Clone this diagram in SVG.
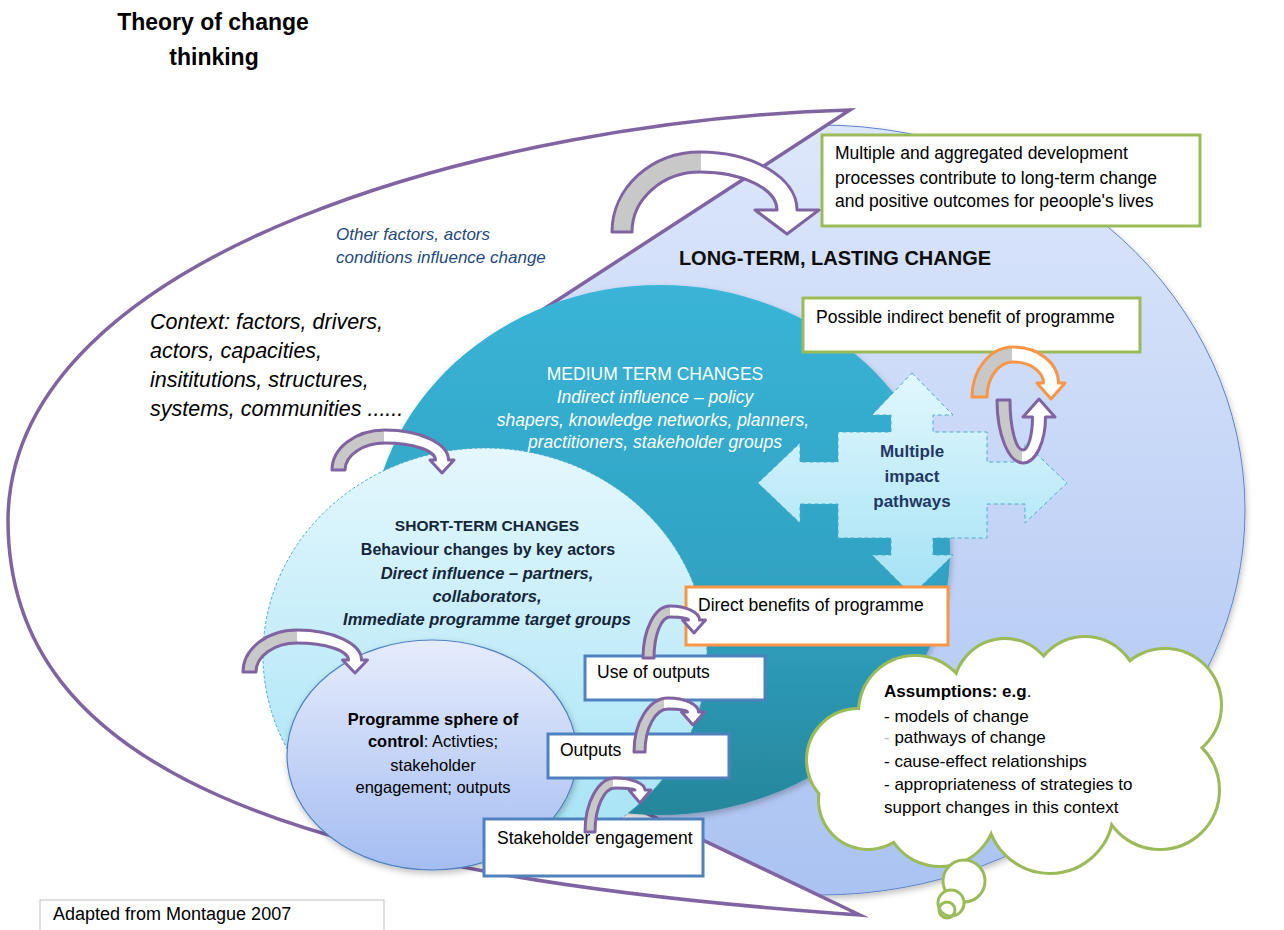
<svg xmlns="http://www.w3.org/2000/svg" width="1284" height="930" viewBox="0 0 1284 930">
<defs>
<style>
text{font-family:"Liberation Sans",Arial,sans-serif;}
.box{fill:#fff;stroke-width:3;}
.g{stroke:#9BBB59;}
.o{stroke:#F79646;}
.b{stroke:#4F81BD;}
.bt{font-size:17.5px;fill:#000;}
.arr{fill:url(#gw);stroke-width:3;stroke-linejoin:round;}
.pa{stroke:#8064A2;}
.oa{stroke:#F79646;}
.wt{fill:#fff;font-size:17.5px;text-anchor:middle;}
.st{fill:#13263A;text-anchor:middle;font-weight:bold;}
.cl{fill:#fff;stroke:#9BBB59;stroke-width:6;}
.cf{fill:#fff;}
.at{font-size:17px;fill:#000;}
</style>
<linearGradient id="gw" x1="0" y1="0" x2="1" y2="0">
<stop offset="0" stop-color="#C8C8C8"/><stop offset="0.43" stop-color="#C8C8C8"/><stop offset="0.43" stop-color="#FFFFFF"/><stop offset="1" stop-color="#FFFFFF"/>
</linearGradient>
<linearGradient id="gLong" x1="0" y1="0" x2="0" y2="1">
<stop offset="0" stop-color="#DDE7FB"/><stop offset="1" stop-color="#ABC3F2"/>
</linearGradient>
<linearGradient id="gMed" x1="0" y1="0" x2="0" y2="1">
<stop offset="0" stop-color="#3AB4D7"/><stop offset="0.6" stop-color="#2FA1C1"/><stop offset="1" stop-color="#27869B"/>
</linearGradient>
<linearGradient id="gShort" x1="0" y1="0" x2="0" y2="1">
<stop offset="0" stop-color="#E4F7FD"/><stop offset="1" stop-color="#A3E2F5"/>
</linearGradient>
<linearGradient id="gSph" x1="0" y1="0" x2="0" y2="1">
<stop offset="0" stop-color="#E6ECFC"/><stop offset="1" stop-color="#A4BDF2"/>
</linearGradient>
<linearGradient id="gCross" x1="0" y1="0" x2="0" y2="1">
<stop offset="0" stop-color="#E2F7FD"/><stop offset="1" stop-color="#A4E2F5"/>
</linearGradient>
<filter id="sh" x="-10%" y="-10%" width="120%" height="125%">
<feDropShadow dx="1" dy="3" stdDeviation="3" flood-color="#000" flood-opacity="0.25"/>
</filter>
</defs>

<rect width="1284" height="930" fill="#fff"/>

<g id="title">
<text x="213" y="30" font-size="23" font-weight="bold" text-anchor="middle">Theory of change</text>
<text x="214" y="65" font-size="23" font-weight="bold" text-anchor="middle">thinking</text>
</g>

<g id="long-term">
<ellipse cx="820" cy="510" rx="425" ry="385" fill="url(#gLong)" stroke="#5B83C9" stroke-width="1" filter="url(#sh)"/>
</g>

<g id="context">
<path d="M850,110 C500,120 10,250 8,520 C8,770 290,875 860,915 L560,772 L533,316 Z" fill="#fff" stroke="#8064A2" stroke-width="3.5" stroke-miterlimit="12"/>
</g>

<g id="medium-term">
<ellipse cx="660" cy="550" rx="290" ry="265" fill="url(#gMed)" filter="url(#sh)"/>
</g>

<g id="short-term">
<ellipse cx="485" cy="655" rx="222" ry="207" fill="url(#gShort)" stroke="#4BACC6" stroke-width="1" stroke-dasharray="3 2"/>
</g>

<g id="sphere">
<ellipse cx="432" cy="755" rx="145" ry="115" fill="url(#gSph)" stroke="#4F81BD" stroke-width="1.2" filter="url(#sh)"/>
</g>

<g id="pathways">
<polygon points="912,373 953,415 933,415 933,432 987,432 987,462 1025,462 1025,443 1067,483 1025,523 1025,504 987,504 987,538 933,538 933,555 953,555 912,595 872,555 891,555 891,538 838,538 838,504 800,504 800,523 758,483 800,443 800,462 838,462 838,432 891,432 891,415 872,415" fill="url(#gCross)" stroke="#4BACC6" stroke-width="1" stroke-dasharray="4 3"/>
<text x="912" y="457" font-size="17" font-weight="bold" fill="#1F3864" text-anchor="middle">Multiple</text>
<text x="912" y="482" font-size="17" font-weight="bold" fill="#1F3864" text-anchor="middle">impact</text>
<text x="912" y="507" font-size="17" font-weight="bold" fill="#1F3864" text-anchor="middle">pathways</text>
</g>

<g id="labels">
<text x="336" y="240" font-size="17" font-style="italic" fill="#1F497D">Other factors, actors</text>
<text x="336" y="263" font-size="17" font-style="italic" fill="#1F497D">conditions influence change</text>
<text font-size="21.5" font-style="italic" fill="#000">
<tspan x="150" y="329">Context: factors, drivers,</tspan>
<tspan x="150" y="358">actors, capacities,</tspan>
<tspan x="150" y="387">insititutions, structures,</tspan>
<tspan x="150" y="416">systems, communities ......</tspan>
</text>
<text x="835" y="265" font-size="20" font-weight="bold" text-anchor="middle" fill="#0D0D0D">LONG-TERM, LASTING CHANGE</text>
<text class="wt" x="655" y="380">MEDIUM TERM CHANGES</text>
<text class="wt" x="655" y="403" font-style="italic">Indirect influence – policy</text>
<text class="wt" x="653" y="426" font-style="italic">shapers, knowledge networks, planners,</text>
<text class="wt" x="655" y="448" font-style="italic">practitioners, stakeholder groups</text>
<text class="st" x="487" y="531" font-size="15.5">SHORT-TERM CHANGES</text>
<text class="st" x="488" y="555" font-size="16">Behaviour changes by key actors</text>
<text class="st" x="487" y="579" font-size="16.5" font-style="italic">Direct influence – partners,</text>
<text class="st" x="487" y="602" font-size="16.5" font-style="italic">collaborators,</text>
<text class="st" x="487" y="625" font-size="16.5" font-style="italic">Immediate programme target groups</text>
<text x="433" y="725" font-size="16.5" font-weight="bold" text-anchor="middle">Programme  sphere of</text>
<text x="433" y="747" font-size="16.5" text-anchor="middle"><tspan font-weight="bold">control</tspan>: Activties;</text>
<text x="433" y="771" font-size="16.5" text-anchor="middle">stakeholder</text>
<text x="433" y="793" font-size="16.5" text-anchor="middle">engagement; outputs</text>
</g>

<g id="box-aggregated">
<rect class="box g" x="822" y="135" width="378" height="91"/>
<text class="bt" x="835" y="159">Multiple and aggregated development</text>
<text class="bt" x="835" y="184">processes contribute to long-term change</text>
<text class="bt" x="835" y="207">and positive outcomes for peoople's lives</text>
</g>
<g id="box-indirect">
<rect class="box g" x="803" y="298" width="337" height="54"/>
<text class="bt" x="816" y="323">Possible indirect benefit of programme</text>
</g>
<g id="box-direct">
<rect class="box o" x="686" y="587" width="262" height="58"/>
<text class="bt" x="698" y="611">Direct benefits of programme</text>
</g>
<g id="box-use">
<rect class="box b" x="585" y="656" width="180" height="44"/>
<text class="bt" x="597" y="678">Use of  outputs</text>
</g>
<g id="box-outputs">
<rect class="box b" x="548" y="734" width="181" height="44"/>
<text class="bt" x="560" y="756">Outputs</text>
</g>
<g id="box-stakeholder">
<rect class="box b" x="484" y="819" width="219" height="57"/>
<text class="bt" x="497" y="844">Stakeholder engagement</text>
</g>

<g id="cloud">
<circle class="cl" cx="858" cy="760" r="50"/>
<circle class="cl" cx="915" cy="712" r="55"/>
<circle class="cl" cx="1005" cy="690" r="50"/>
<circle class="cl" cx="1085" cy="690" r="52"/>
<circle class="cl" cx="1165" cy="705" r="55"/>
<circle class="cl" cx="1160" cy="790" r="58"/>
<circle class="cl" cx="1050" cy="810" r="62"/>
<circle class="cl" cx="940" cy="810" r="55"/>
<circle class="cl" cx="868" cy="800" r="48"/>
<circle class="cf" cx="858" cy="760" r="50"/>
<circle class="cf" cx="915" cy="712" r="55"/>
<circle class="cf" cx="1005" cy="690" r="50"/>
<circle class="cf" cx="1085" cy="690" r="52"/>
<circle class="cf" cx="1165" cy="705" r="55"/>
<circle class="cf" cx="1160" cy="790" r="58"/>
<circle class="cf" cx="1050" cy="810" r="62"/>
<circle class="cf" cx="940" cy="810" r="55"/>
<circle class="cf" cx="868" cy="800" r="48"/>
<ellipse class="cf" cx="1010" cy="760" rx="140" ry="70"/>
<circle cx="964" cy="881" r="21" fill="#fff" stroke="#9BBB59" stroke-width="3"/>
<circle cx="951" cy="903" r="13" fill="#fff" stroke="#9BBB59" stroke-width="3"/>
<circle cx="947" cy="910" r="8" fill="none" stroke="#9BBB59" stroke-width="3"/>
<text class="at" x="884" y="697" font-weight="bold" font-size="17.5">Assumptions: e.g<tspan font-weight="normal">.</tspan></text>
<text class="at" x="884" y="722">- models of change</text>
<text class="at" x="884" y="743"><tspan fill="#BBBBBB">-</tspan> pathways of change</text>
<text class="at" x="884" y="767">- cause-effect relationships</text>
<text class="at" x="884" y="790">- appropriateness of strategies to</text>
<text class="at" x="884" y="813">support changes in this context</text>
</g>

<g id="connectors">
<path class="arr pa" d="M612,232 C612,187.8 651.4,152 700,152 C753.5,152 797,178 797,210 L819,210 L787,234 L755,210 L777,210 C777,189 742.5,172 700,172 C662.5,172 632,198.9 632,232 Z"/>
<path class="arr pa" d="M332,470 C332,448 355.7,430 385,430 C420,430 448.5,443.4 448.5,460 L454,460 L442,473 L430,460 L435.5,460 C435.5,450.6 412.9,443 385,443 C363,443 345,455.1 345,470 Z"/>
<path class="arr pa" d="M243,672 C243,648.8 267.2,630 297,630 C332.6,630 361.5,643.4 361.5,660 L367.5,660 L355,673 L342.5,660 L348.5,660 C348.5,650.6 325.4,643 297,643 C274.4,643 256,656 256,672 Z"/>
<path class="arr pa" d="M643,658 C643,629.3 655.1,606 670,606 C686.3,606 699.5,612.3 699.5,620 L705.5,620 L694,633 L682.5,620 L688.5,620 C688.5,618.3 680.2,617 670,617 C661.2,617 654,635.4 654,658 Z"/>
<path class="arr pa" d="M634,752 C634,722.2 649.2,698 668,698 C684.8,698 698.5,704.3 698.5,712 L704.5,712 L693,725 L681.5,712 L687.5,712 C687.5,710.3 678.8,709 668,709 C655.3,709 645,728.3 645,752 Z"/>
<path class="arr pa" d="M585,832 C585,802.2 598.4,778 615,778 C631.6,778 645,783.4 645,790 L651,790 L640,803 L629,790 L635,790 C635,789 626,788 615,788 C604,788 595,807.7 595,832 Z"/>
<path class="arr oa" d="M972,397 C972,369.4 990.4,347 1013,347 C1038.1,347 1058.5,363.1 1058.5,383 L1065,383 L1051,399 L1037,383 L1043.5,383 C1043.5,371.4 1029.8,362 1013,362 C998.6,362 987,377.7 987,397 Z"/>
<path class="arr pa" d="M997,400 C997,434.8 1008.6,463 1023,463 C1035.4,463 1045.5,442.4 1045.5,417 L1055,417 L1039,399 L1023,417 L1032.5,417 C1032.5,435.2 1028.2,450 1023,450 C1015.8,450 1010,427.6 1010,400 Z"/>
</g>

<g id="source">
<rect x="40" y="900" width="344" height="40" fill="#fff" stroke="#BFBFBF" stroke-width="1"/>
<text x="53" y="920" font-size="18" fill="#000">Adapted from Montague 2007</text>
</g>
</svg>
